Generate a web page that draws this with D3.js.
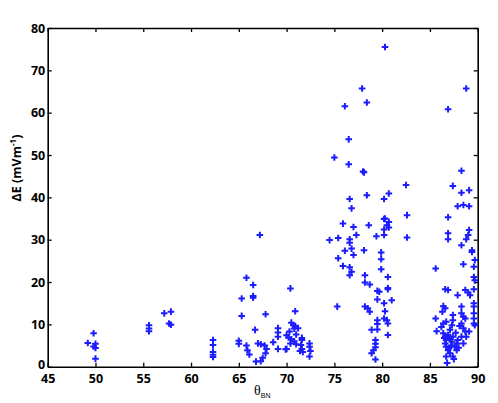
<!DOCTYPE html>
<html>
<head>
<meta charset="utf-8">
<script src="https://cdn.jsdelivr.net/npm/d3@7"></script>
<style>
  body { margin: 0; background: #fff; }
  .tick text { font-family: "Open Sans", "Liberation Sans", sans-serif; font-weight: bold; font-size: 12.5px; fill: #000; }
</style>
</head>
<body>
<div id="chart"></div>
<script>
// [theta_BN (deg), deltaE (mV/m)], grouped by angle band
var band45to60 = [
  [49.2,5.6],[49.8,7.9],[50.0,5.4],[49.8,4.8],[50.0,4.4],[50.0,1.9],
  [55.6,9.8],[55.6,9.0],[55.6,8.4],
  [57.2,12.6],[57.9,13.0],[57.7,10.2],[57.9,9.9]
];
var band60to73 = [
  [62.3,6.3],[62.3,5.1],[62.3,3.5],[62.3,2.8],[62.3,2.3],
  [65.3,16.1],[65.3,12.0],[65.0,6.1],[65.0,5.4],[65.8,21.0],[65.8,5.0],[65.9,3.9],[66.1,2.9],
  [67.2,31.1],[66.5,19.3],[66.5,16.7],[66.5,16.3],[70.4,18.5],[67.8,12.4],[70.9,13.1],[66.7,8.7],
  [70.5,10.4],[70.7,9.8],[70.9,9.6],[69.1,9.1],[69.1,8.1],[69.1,7.1],
  [67.0,5.5],[67.3,5.3],[67.7,5.0],[67.9,4.2],[67.8,3.2],[67.5,2.1],[67.3,1.3],[66.8,1.2],
  [68.6,5.8],[69.1,4.2],[69.9,4.1],
  [70.0,7.4],[70.3,8.3],[70.5,6.5],[70.8,9.0],[71.0,7.6],[71.2,9.1],[70.0,4.2],[70.4,5.5],[70.8,6.0],[70.2,6.9],[71.0,5.3],
  [71.6,6.8],[71.6,6.3],[71.5,5.1],[71.6,4.2],[71.7,3.5],[71.4,3.7],
  [72.4,5.5],[72.4,4.7],[72.5,3.7],[72.4,2.4]
];
var band73to83 = [
  [74.5,29.9],[80.3,75.5],[77.9,65.7],[78.4,62.4],[76.1,61.5],[76.5,53.7],[75.0,49.4],[76.5,47.8],[78.0,46.1],[78.1,45.9],
  [82.5,42.9],[78.4,40.5],[80.7,40.9],[76.6,39.6],[80.2,39.6],
  [76.8,37.4],[82.6,35.8],[80.2,34.9],[80.7,34.2],[80.3,35.0],[80.5,33.4],[75.9,33.8],[77.0,33.0],[78.6,33.4],[80.7,32.9],[80.2,32.4],
  [82.6,30.5],[77.3,31.1],[79.4,30.8],[80.2,31.1],[75.4,30.4],[76.6,30.1],[76.6,29.3],
  [76.1,27.4],[76.8,27.9],[77.0,26.4],[78.1,27.5],[79.9,27.0],[75.4,25.6],[79.9,25.4],
  [79.9,23.0],[75.9,23.8],[76.6,23.5],[76.8,22.4],[76.6,21.6],[80.6,21.2],[78.2,21.6],[78.2,19.9],[78.7,19.4],
  [79.5,17.9],[79.7,17.7],[80.6,18.6],[80.6,18.3],[79.5,15.9],[81.0,15.7],[80.2,15.0],[75.3,14.2],
  [78.2,14.2],[78.5,13.8],[78.7,13.0],[80.3,13.1],[80.2,11.4],[80.5,11.0],[80.6,10.2],[79.5,11.0],[79.5,10.1],
  [78.9,8.7],[79.5,8.8],[80.6,7.5],[79.3,6.3],[79.3,5.4],[79.3,4.6],[79.1,3.9],[78.9,3.2],[79.3,1.7]
];
var band83to90 = [
  [88.8,65.7],[86.9,60.8],[88.3,46.3],[87.4,42.7],[88.3,41.1],[89.1,41.7],
  [87.9,37.9],[88.5,38.2],[89.1,37.9],
  [86.9,35.3],[86.9,31.5],[86.9,30.1],[89.1,32.3],[89.0,31.1],[88.8,30.1],[88.3,28.7],[89.4,27.1],[89.4,27.5],
  [88.5,24.2],[89.6,23.6],[85.6,23.2],[89.6,21.2],[89.7,25.2],[89.7,20.4],
  [86.6,18.3],[86.9,18.1],[88.7,18.1],[89.0,17.5],[89.2,16.9],[89.6,18.3],[87.9,16.9],[88.3,14.2],[89.6,15.0],[89.6,14.2],
  [86.4,14.3],[86.6,13.8],[86.3,13.0],[87.4,12.2],[88.3,12.6],[88.5,11.8],[88.7,11.4],[89.6,12.6],[89.6,11.4],[89.6,10.2],[89.7,9.8],
  [85.6,11.4],[85.7,8.4],
  [86.4,10.2],[86.7,10.6],[86.2,9.4],[87.4,11.0],[87.3,9.8],[87.1,8.7],[88.3,10.2],[88.5,9.1],[88.7,8.3],[88.8,7.1],[89.1,8.3],
  [86.4,7.9],[86.6,7.1],[86.7,6.3],[86.9,7.5],[87.1,6.7],[87.3,5.9],[86.6,5.5],[86.7,4.7],[86.9,3.9],[87.1,3.2],[86.7,2.4],[86.8,0.9],
  [87.4,2.4],[87.6,4.7],[87.8,5.5],[87.4,7.1],[87.9,6.3],[88.3,7.1],[88.5,5.5],[87.8,3.9],
  [87.0,4.3],[87.2,5.0],[86.5,6.8],[87.7,8.0],[88.1,9.6],[88.0,4.5],[87.5,1.8]
];

var xTicks = [45, 50, 55, 60, 65, 70, 75, 80, 85, 90];
var yTicks = [0, 10, 20, 30, 40, 50, 60, 70, 80];

var svgWidth = 498;
var svgHeight = 403;
var margin = { top: 28, right: 20.3, bottom: 36.3, left: 47.7 };
var width = svgWidth - margin.left - margin.right;
var height = svgHeight - margin.top - margin.bottom;

var points = band45to60.concat(band60to73, band73to83, band83to90);

var svg = d3.select("#chart")
  .append("svg")
  .attr("width", svgWidth)
  .attr("height", svgHeight);

var chartGroup = svg.append("g")
  .attr("transform", `translate(${margin.left}, ${margin.top})`);

var xScale = d3.scaleLinear().domain([45, 90]).range([0, width]);
var yScale = d3.scaleLinear().domain([0, 80]).range([height, 0]);

// inward ticks on all four sides, labels only bottom / left
var bottomAxis = d3.axisBottom(xScale).tickValues(xTicks).tickSizeInner(-4).tickSizeOuter(0).tickPadding(7.5);
var leftAxis = d3.axisLeft(yScale).tickValues(yTicks).tickSizeInner(-4).tickSizeOuter(0).tickPadding(2.5);
var topAxis = d3.axisTop(xScale).tickValues(xTicks).tickSizeInner(-4).tickSizeOuter(0).tickFormat("");
var rightAxis = d3.axisRight(yScale).tickValues(yTicks).tickSizeInner(-4).tickSizeOuter(0).tickFormat("");

chartGroup.append("g").attr("transform", `translate(0, ${height})`).call(bottomAxis);
var yAxis = chartGroup.append("g").call(leftAxis);
chartGroup.append("g").call(topAxis);
chartGroup.append("g").attr("transform", `translate(${width}, 0)`).call(rightAxis);

chartGroup.selectAll(".domain").attr("stroke", "#000").attr("stroke-width", 1.6);
chartGroup.selectAll(".tick line").attr("stroke", "#000").attr("stroke-width", 1.3);
chartGroup.selectAll(".tick text").attr("font-family", null).attr("font-size", null);
// lift the "0" a touch so it clears the "45" below it
yAxis.selectAll(".tick text").filter(d => d === 0).attr("dy", "0.18em");

// plus markers
chartGroup.append("g")
  .selectAll("path")
  .data(points)
  .enter()
  .append("path")
  .attr("transform", d => `translate(${xScale(d[0])}, ${yScale(d[1])})`)
  .attr("d", "M-3.3,0H3.3M0,-3.3V3.3")
  .attr("fill", "none")
  .attr("stroke", "#1c1cff")
  .attr("stroke-width", 2);

// y label
svg.append("text")
  .attr("transform", "translate(21, 168) rotate(-90)")
  .attr("text-anchor", "middle")
  .style("font-family", "'Open Sans', 'Liberation Sans', sans-serif")
  .style("font-weight", "bold")
  .style("font-size", "12.5px")
  .html('ΔE (mVm<tspan dy="-5" font-size="8px">-1</tspan><tspan dy="5">)</tspan>');

// x label
var xLabel = svg.append("text")
  .attr("x", 254)
  .attr("y", 395)
  .style("font-family", "'Liberation Serif', serif")
  .style("font-size", "14px");
xLabel.append("tspan").text("θ");
xLabel.append("tspan").attr("dy", 3).style("font-family", "'Liberation Sans', sans-serif").style("font-size", "7px").text("BN");
</script>
</body>
</html>
